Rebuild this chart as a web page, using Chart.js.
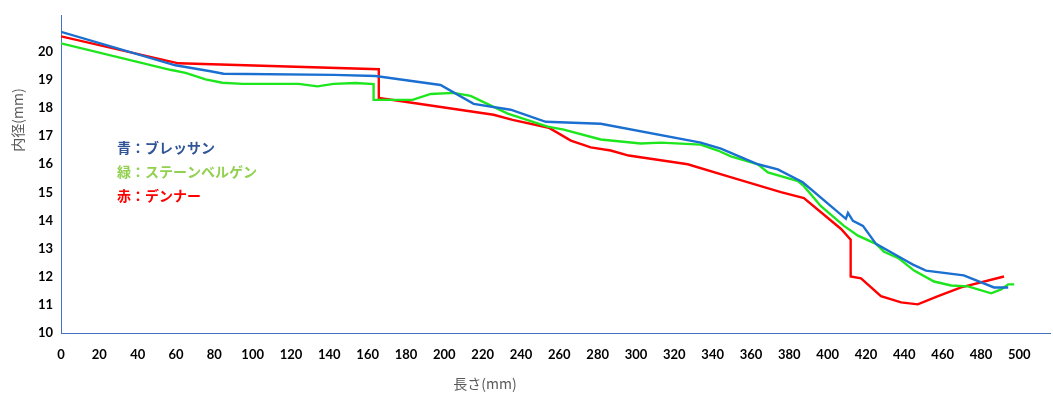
<!DOCTYPE html>
<html>
<head>
<meta charset="utf-8">
<script src="https://cdn.jsdelivr.net/npm/chart.js@4/dist/chart.umd.min.js"></script>
<style>
html,body{margin:0;padding:0;background:#fff;}
#wrap{width:1053px;height:401px;position:relative;}
</style>
</head>
<body>
<div id="wrap"><canvas id="c" width="1053" height="401"></canvas></div>
<script>
// ---- data (length mm, inner diameter mm) ----
const blueX  = [0, 59.7, 78, 84.8, 142.2, 164.1, 198, 215.3, 234.6, 252.9, 281.6, 333.8, 344.3, 363.6, 374, 387, 409.5, 410.6, 413.2, 418.4, 425.2, 440.9, 444.5, 451.3, 471, 486.8, 494.2];
const blueY  = [20.71, 19.52, 19.31, 19.22, 19.18, 19.14, 18.82, 18.15, 17.94, 17.51, 17.44, 16.77, 16.56, 16.00, 15.82, 15.36, 14.06, 14.27, 13.99, 13.81, 13.17, 12.57, 12.43, 12.22, 12.05, 11.62, 11.62];

const greenX = [0, 57, 65, 75.4, 84.2, 94.7, 124, 133.8, 142.2, 153.7, 163.1, 163.1, 183.4, 192.9, 204.9, 213.7, 233.1, 253.9, 262.3, 281.6, 302.5, 313, 333.8, 342.7, 349.5, 363.6, 368.8, 384.5, 387.6, 396.5, 408.5, 415.8, 425.2, 429.4, 437.2, 445.1, 455.5, 464.4, 473.2, 485.3, 490.5, 494.2, 497.3];
const greenY = [20.30, 19.36, 19.25, 19.02, 18.90, 18.86, 18.86, 18.77, 18.86, 18.89, 18.85, 18.29, 18.29, 18.50, 18.54, 18.43, 17.80, 17.34, 17.23, 16.88, 16.74, 16.77, 16.70, 16.49, 16.28, 16.00, 15.71, 15.40, 15.22, 14.51, 13.81, 13.46, 13.17, 12.89, 12.65, 12.22, 11.83, 11.69, 11.66, 11.41, 11.55, 11.73, 11.73];

const redX   = [0, 61.3, 165.8, 165.8, 184, 225.7, 235.6, 254.5, 266, 276.4, 286.8, 296.2, 327, 348, 375.6, 387.6, 407, 412, 412, 417.4, 427.8, 438.3, 447, 457.6, 469.6, 492];
const redY   = [20.55, 19.59, 19.38, 18.36, 18.18, 17.76, 17.58, 17.30, 16.84, 16.60, 16.49, 16.31, 16.00, 15.57, 15.01, 14.80, 13.70, 13.32, 12.01, 11.94, 11.31, 11.09, 11.02, 11.31, 11.62, 12.01];

const seriesNames = ['青：ブレッサン', '緑：ステーンベルゲン', '赤：デンナー'];
const xTitle = '長さ(mm)';
const yTitle = '内径(mm)';
const xTicks = [0, 20, 40, 60, 80, 100, 120, 140, 160, 180, 200, 220, 240, 260, 280, 300, 320, 340, 360, 380, 400, 420, 440, 460, 480, 500];
const yTicks = [10, 11, 12, 13, 14, 15, 16, 17, 18, 19, 20];

function pts(xs, ys){ return xs.map((x,i)=>({x:x, y:ys[i]})); }

const annot = {
  id:'annot',
  afterDraw(chart){
    const ctx = chart.ctx;
    ctx.save();
    ctx.textBaseline = 'middle';
    ctx.textAlign = 'left';
    ctx.font = 'bold 14px "Noto Sans CJK JP"';
    const cols = ['#2F5597', '#92D050', '#FF0000'];
    const ys = [148, 171.5, 196];
    seriesNames.forEach((t,i)=>{ ctx.fillStyle = cols[i]; ctx.fillText(t, 117, ys[i]); });
    ctx.fillStyle = '#595959';
    ctx.font = '14px "Noto Sans CJK JP"';
    ctx.textAlign = 'center';
    ctx.fillText(xTitle, 485, 384);
    ctx.translate(18, 120);
    ctx.rotate(-Math.PI/2);
    ctx.fillText(yTitle, 0, 0);
    ctx.restore();
  }
};

new Chart(document.getElementById('c'), {
  type: 'line',
  data: {
    datasets: [
      {label: seriesNames[0], data: pts(blueX, blueY), borderColor:'#1A6FD0', borderWidth:2.4},
      {label: seriesNames[1], data: pts(greenX, greenY), borderColor:'#1EE61E', borderWidth:2.4},
      {label: seriesNames[2], data: pts(redX, redY), borderColor:'#FF0000', borderWidth:2.4}
    ]
  },
  options: {
    responsive:false,
    animation:false,
    devicePixelRatio:1,
    elements:{ point:{radius:0}, line:{tension:0} },
    layout:{ padding:{left:0, right:3, top:13, bottom:0} },
    plugins:{ legend:{display:false}, tooltip:{enabled:false} },
    scales:{
      x:{
        type:'linear', min:0, max:516,
        afterBuildTicks(s){ s.ticks = xTicks.map(v=>({value:v})); },
        afterFit(s){ s.height = 68; },
        grid:{display:false, drawTicks:false},
        border:{display:true, color:'#4472C4', width:1},
        ticks:{padding:14, maxRotation:0, autoSkip:false, color:'#000', font:{family:'Lato', size:13, weight:'bold'}}
      },
      y:{
        type:'linear', min:10, max:21.28,
        afterBuildTicks(s){ s.ticks = yTicks.map(v=>({value:v})); },
        afterFit(s){ s.width = 61; },
        grid:{display:false, drawTicks:false},
        border:{display:true, color:'#4472C4', width:1},
        ticks:{padding:8, autoSkip:false, color:'#000', font:{family:'Lato', size:13, weight:'bold'}}
      }
    }
  },
  plugins:[annot]
});
</script>
</body>
</html>
